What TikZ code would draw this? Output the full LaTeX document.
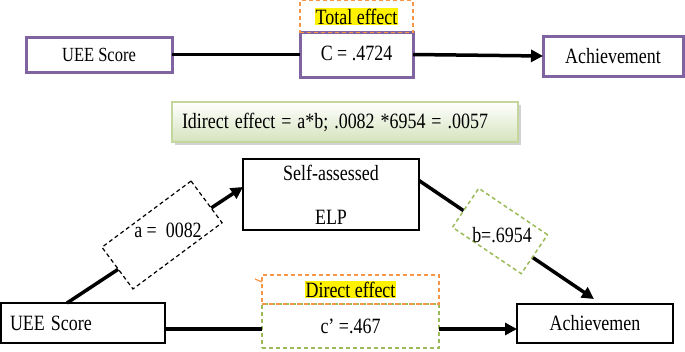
\documentclass[tikz,border=0pt]{standalone}
\usepackage{fontspec}
\usepackage{graphicx}
\setmainfont{Liberation Serif}
\usetikzlibrary{arrows.meta,calc,shadows}
\definecolor{purp}{HTML}{8064A2}
\definecolor{orng}{HTML}{F79646}
\definecolor{grn}{HTML}{9BBB59}
\definecolor{lgrn}{HTML}{C3D69B}
\definecolor{fgrn}{HTML}{D5E3BC}
\newcommand{\sx}[1]{\scalebox{0.97}[1.18]{#1}}
\newcommand{\hl}[1]{{\setlength{\fboxsep}{0.5pt}\colorbox{yellow}{\sx{#1}}}}
\begin{document}
\begin{tikzpicture}[x=1pt,y=-1pt,
  every node/.style={font=\fontsize{18.5}{22}\selectfont, inner sep=0pt, outer sep=0pt},
  pbox/.style={draw=purp, line width=3pt, rectangle, fill=white},
  kbox/.style={draw=black, line width=1.5pt, rectangle, fill=white},
  obox/.style={draw=orng, line width=1.5pt, dash pattern=on 4pt off 3pt, rectangle},
  gbox/.style={draw=grn, line width=1.5pt, dash pattern=on 4pt off 3pt, rectangle, fill=white},
  dbox/.style={draw=black, line width=1.2pt, dash pattern=on 4pt off 3pt, rectangle, fill=white},
  conn/.style={line width=3.5pt, draw=black},
  arr/.style={conn, -{Triangle[length=12pt,width=12pt]}}
]
\useasboundingbox (0,0) rectangle (685,351);

% ---------- top: total effect ----------
\node[pbox, minimum width=146pt, minimum height=35pt, font=\fontsize{17}{20}\selectfont] (uee1) at (99,54.5) {\sx{UEE Score}};
\node[pbox, minimum width=113pt, minimum height=45pt] (cbox) at (356.5,54.5) {\raisebox{3pt}{\sx{C = .4724}}};
\node[obox, minimum width=113pt, minimum height=32pt] (tot) at (356.5,16.5) {\hl{Total effect}};
\node[pbox, minimum width=140pt, minimum height=40pt] (ach1) at (613,56) {\sx{Achievement}};
\draw[conn] (uee1.east) -- (cbox.west);
\draw[arr] (cbox.east) -- (ach1.west);

% ---------- indirect effect box ----------
\node[draw=lgrn, line width=1.5pt, rectangle, top color=white, bottom color=fgrn,
      drop shadow={shadow xshift=2.5pt, shadow yshift=-2.5pt, fill=black!35},
      minimum width=346pt, minimum height=40pt, text width=326pt, align=left]
      (ind) at (345,122) {\sx{Idirect effect = a*b; .0082 *6954 = .0057}};

% ---------- bottom: mediation ----------
\node[kbox, minimum width=176pt, minimum height=71pt, align=center] (sa) at (331,194.5) {\sx{Self-assessed}\\[22pt]\sx{ELP}};
\node[kbox, minimum width=164pt, minimum height=40pt, text width=146pt, align=left] (uee2) at (83,323) {\sx{UEE Score}};
\node[kbox, minimum width=156pt, minimum height=39pt] (ach2) at (595,323.5) {\sx{Achievemen}};

\coordinate (astart) at ($(uee2.north west)+(66,0)$);
\coordinate (aend) at ($(sa.west)+(0,-7.5)$);
\draw[arr] (astart) -- (aend);
\node[dbox, rotate=36.6, minimum width=111pt, minimum height=52pt] (abox) at (162,235) {};
\node (atext) at (168,230) {\sx{a =\ \ 0082}};

\coordinate (bstart) at ($(sa.east)+(0,-14)$);
\coordinate (bend) at ($(ach2.north)+(-1,-5)$);
\draw[arr] (bstart) -- (bend);
\node[draw=grn, line width=1.5pt, dash pattern=on 4pt off 3pt, fill=white, rotate=-34, minimum width=83pt, minimum height=47pt] (bbox) at (500,231) {};
\node (btext) at (502,235) {\sx{b=.6954}};

\node[gbox, minimum width=177pt, minimum height=44pt] (cp) at (350.5,326) {\sx{c’ =.467}};
\node[obox, minimum width=177pt, minimum height=29pt] (dir) at (350.5,289.5) {\hl{Direct effect}};
\coordinate (notch) at ($(dir.north west)+(-7,4)$);
\draw[orng, line width=1.2pt] (notch) -- ($(dir.north west)+(0,7)$);

\coordinate (cl) at ($(uee2.east)+(0,6)$);
\coordinate (cr) at ($(cp.east)+(0,3)$);
\draw[conn] (cl) -- (cl -| cp.west);
\draw[arr] (cr) -- (cr -| ach2.west);
\end{tikzpicture}
\end{document}
